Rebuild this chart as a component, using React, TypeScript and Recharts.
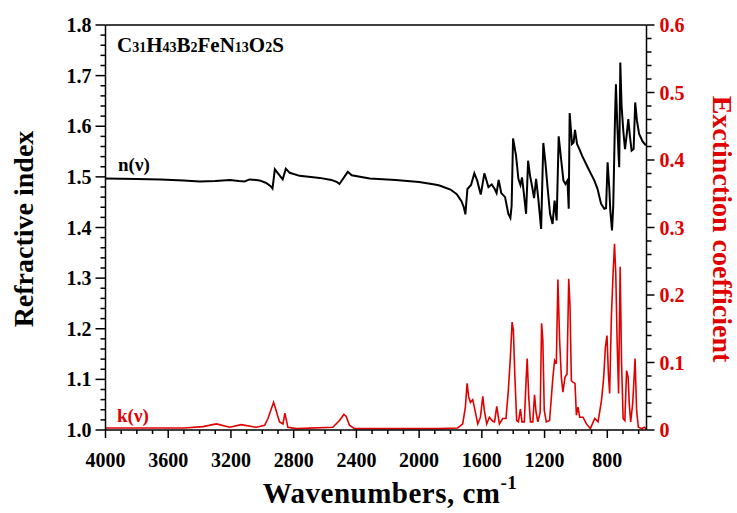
import { LineChart, Line, XAxis, YAxis, ReferenceLine } from 'recharts'

const RED = '#e00000'
const FONT = '"Liberation Serif", "Times New Roman", serif'

// refractive index n(ν): [wavenumber, n]
const nCurve: [number, number][] = [
  [4000, 1.497], [3800, 1.496], [3650, 1.495], [3500, 1.493], [3400, 1.491],
  [3300, 1.492], [3207, 1.494], [3150, 1.492], [3113, 1.491], [3081, 1.495],
  [3017, 1.493], [2975, 1.488], [2945, 1.481], [2935, 1.477], [2920, 1.515],
  [2895, 1.505], [2870, 1.495], [2850, 1.516], [2825, 1.508], [2762, 1.502],
  [2634, 1.498], [2560, 1.494], [2526, 1.490], [2508, 1.486], [2455, 1.510],
  [2430, 1.503], [2315, 1.497], [2150, 1.494], [2000, 1.490], [1900, 1.485],
  [1870, 1.483], [1800, 1.475], [1760, 1.466], [1730, 1.452], [1715, 1.440],
  [1705, 1.426], [1692, 1.476], [1669, 1.484], [1648, 1.507], [1630, 1.493],
  [1607, 1.465], [1584, 1.507], [1558, 1.480], [1537, 1.485], [1518, 1.476],
  [1506, 1.468], [1493, 1.494], [1476, 1.468], [1452, 1.460], [1431, 1.427],
  [1418, 1.419], [1410, 1.443], [1401, 1.576], [1382, 1.542], [1367, 1.496],
  [1354, 1.484], [1344, 1.499], [1333, 1.470], [1318, 1.427], [1305, 1.532],
  [1293, 1.503], [1280, 1.482], [1267, 1.458], [1254, 1.496], [1240, 1.457],
  [1222, 1.397], [1208, 1.567], [1195, 1.529], [1180, 1.476], [1165, 1.427],
  [1149, 1.407], [1136, 1.453], [1123, 1.414], [1110, 1.580], [1095, 1.536],
  [1080, 1.493], [1067, 1.486], [1054, 1.493], [1046, 1.437], [1040, 1.626],
  [1025, 1.565], [1015, 1.568], [1006, 1.593], [993, 1.565], [978, 1.555],
  [961, 1.542], [936, 1.526], [904, 1.506], [883, 1.493], [862, 1.476],
  [840, 1.447], [819, 1.437], [808, 1.438], [798, 1.529], [787, 1.476],
  [781, 1.434], [770, 1.394], [762, 1.443], [751, 1.614], [745, 1.683],
  [736, 1.601], [728, 1.542], [724, 1.519], [717, 1.726], [709, 1.641],
  [698, 1.591], [687, 1.555], [677, 1.581], [666, 1.614], [656, 1.581],
  [645, 1.552], [632, 1.555], [622, 1.647], [611, 1.611], [597, 1.585],
  [575, 1.570], [554, 1.562],
]

// extinction coefficient k(ν): [wavenumber, k]
const kCurve: [number, number][] = [
  [4000, 0.003], [3700, 0.003], [3500, 0.003], [3378, 0.005], [3293, 0.009],
  [3208, 0.004], [3134, 0.008], [3038, 0.004], [2985, 0.007], [2964, 0.017],
  [2928, 0.041], [2890, 0.012], [2868, 0.009], [2856, 0.025], [2837, 0.004],
  [2783, 0.002], [2550, 0.004], [2508, 0.014], [2480, 0.023], [2465, 0.020],
  [2444, 0.007], [2412, 0.002], [2100, 0.002], [1870, 0.002], [1754, 0.003],
  [1722, 0.009], [1705, 0.034], [1694, 0.069], [1684, 0.049], [1673, 0.041],
  [1658, 0.045], [1641, 0.026], [1626, 0.009], [1609, 0.019], [1594, 0.050],
  [1584, 0.029], [1569, 0.009], [1552, 0.019], [1530, 0.013], [1519, 0.012],
  [1505, 0.035], [1488, 0.009], [1467, 0.017], [1446, 0.017], [1431, 0.059],
  [1418, 0.108], [1407, 0.160], [1399, 0.148], [1390, 0.083], [1378, 0.014],
  [1367, 0.012], [1354, 0.031], [1344, 0.012], [1329, 0.012], [1318, 0.073],
  [1311, 0.106], [1301, 0.049], [1290, 0.012], [1275, 0.012], [1264, 0.052],
  [1254, 0.026], [1243, 0.012], [1228, 0.026], [1219, 0.158], [1211, 0.133],
  [1202, 0.029], [1189, 0.012], [1168, 0.014], [1147, 0.078], [1136, 0.103],
  [1125, 0.098], [1115, 0.223], [1104, 0.133], [1093, 0.078], [1083, 0.056],
  [1070, 0.078], [1057, 0.083], [1046, 0.224], [1038, 0.185], [1029, 0.073],
  [1019, 0.071], [1006, 0.069], [997, 0.022], [987, 0.034], [976, 0.019],
  [955, 0.019], [933, 0.009], [908, 0.002], [880, 0.017], [859, 0.012],
  [837, 0.044], [823, 0.078], [812, 0.123], [802, 0.140], [793, 0.083],
  [785, 0.054], [774, 0.167], [763, 0.232], [754, 0.276], [746, 0.232],
  [737, 0.128], [728, 0.054], [718, 0.242], [709, 0.098], [699, 0.017],
  [688, 0.014], [677, 0.088], [667, 0.078], [660, 0.039], [651, 0.012],
  [638, 0.039], [623, 0.106], [613, 0.029], [602, 0.004], [580, 0.002],
  [565, 0.004], [552, 0.002],
]

const xDomain = [550, 4000]
const nDomain = [1.0, 1.8]
const kDomain = [0, 0.6]

const xMajorTicks = [4000, 3600, 3200, 2800, 2400, 2000, 1600, 1200, 800]

// formula parts: [element, subscript]
const formula: [string, string][] = [
  ['C', '31'], ['H', '43'], ['B', '2'], ['Fe', ''], ['N', '13'], ['O', '2'], ['S', ''],
]

function range(start: number, end: number, step: number) {
  const out: number[] = []
  const n = Math.round((end - start) / step)
  for (let i = 0; i <= n; i++) out.push(Math.round((start + i * step) * 1000) / 1000)
  return out
}

const xTicks = range(600, 4000, 100)
const nTicks = range(1.0, 1.8, 0.02)
const kTicks = range(0, 0.6, 0.02)

const nData = nCurve.map(([x, n]) => ({ x, n }))
const kData = kCurve.map(([x, k]) => ({ x, k }))

const isTenth = (v: number) => Math.abs(v * 10 - Math.round(v * 10)) < 1e-6

function BottomTick({ x, y, payload }: any) {
  const v = payload.value
  const major = xMajorTicks.includes(v)
  return (
    <g>
      <line x1={x} x2={x} y1={y} y2={y + (major ? 8 : 4)} stroke="#000" strokeWidth={1.5} />
      {major && (
        <text x={x} y={y + 37} textAnchor="middle" fontFamily={FONT} fontWeight="bold" fontSize={20} fill="#000">
          {v}
        </text>
      )}
    </g>
  )
}

function LeftTick({ x, y, payload }: any) {
  const v = payload.value
  const major = isTenth(v)
  return (
    <g>
      <line x1={x - (major ? 10 : 5)} x2={x} y1={y} y2={y} stroke="#000" strokeWidth={1.5} />
      {major && (
        <text x={x - 14} y={y + 7} textAnchor="end" fontFamily={FONT} fontWeight="bold" fontSize={20} fill="#000">
          {v.toFixed(1)}
        </text>
      )}
    </g>
  )
}

function RightTick({ x, y, payload }: any) {
  const v = payload.value
  const major = isTenth(v)
  return (
    <g>
      <line x1={x} x2={x + (major ? 8 : 5)} y1={y} y2={y} stroke="#000" strokeWidth={1.5} />
      {major && (
        <text x={x + 13} y={y + 7} textAnchor="start" fontFamily={FONT} fontWeight="bold" fontSize={20} fill={RED}>
          {v === 0 ? '0' : v.toFixed(1)}
        </text>
      )}
    </g>
  )
}

export default function App() {
  return (
    <div style={{ position: 'absolute', left: 0, top: 0, width: 737, height: 513, background: '#fff' }}>
      <LineChart width={737} height={513} margin={{ top: 25, right: 30.5, bottom: 43, left: 45.5 }}>
        <XAxis
          dataKey="x"
          type="number"
          domain={xDomain}
          reversed
          ticks={xTicks}
          interval={0}
          tickSize={0}
          tickMargin={0}
          tickLine={false}
          tick={<BottomTick />}
          height={40}
          axisLine={{ stroke: '#000', strokeWidth: 1.5 }}
          allowDataOverflow
        />
        <YAxis
          yAxisId="left"
          type="number"
          domain={nDomain}
          ticks={nTicks}
          interval={0}
          tickSize={0}
          tickMargin={0}
          tickLine={false}
          tick={<LeftTick />}
          width={60}
          axisLine={{ stroke: '#000', strokeWidth: 1.5 }}
          allowDataOverflow
        />
        <YAxis
          yAxisId="right"
          orientation="right"
          type="number"
          domain={kDomain}
          ticks={kTicks}
          interval={0}
          tickSize={0}
          tickMargin={0}
          tickLine={false}
          tick={<RightTick />}
          width={60}
          axisLine={{ stroke: '#000', strokeWidth: 1.5 }}
          allowDataOverflow
        />
        <ReferenceLine yAxisId="left" y={1.8} stroke="#000" strokeWidth={1.5} />
        <Line
          yAxisId="left"
          data={nData}
          dataKey="n"
          type="linear"
          stroke="#000"
          strokeWidth={2}
          dot={false}
          isAnimationActive={false}
        />
        <Line
          yAxisId="right"
          data={kData}
          dataKey="k"
          type="linear"
          stroke={RED}
          strokeWidth={1.6}
          dot={false}
          isAnimationActive={false}
        />
      </LineChart>
      <svg
        width={737}
        height={513}
        style={{ position: 'absolute', left: 0, top: 0, pointerEvents: 'none' }}
        fontFamily={FONT}
        fontWeight="bold"
      >
        <text x={117} y={52} fontSize={21} fill="#000">
          {formula.map(([el, sub]) => [
            <tspan key={el}>{el}</tspan>,
            sub ? <tspan key={el + sub} fontSize={14}>{sub}</tspan> : null,
          ])}
        </text>
        <text x={118} y={171} fontSize={19} fill="#000">n(ν)</text>
        <text x={117} y={422} fontSize={19} fill={RED}>k(ν)</text>
        <text x={390} y={503} fontSize={29} textAnchor="middle" fill="#000" letterSpacing={0.5}>
          Wavenumbers, cm<tspan fontSize={19} dy={-14}>-1</tspan>
        </text>
        <text transform="translate(33 229) rotate(-90)" fontSize={28} textAnchor="middle" fill="#000">
          Refractive index
        </text>
        <text transform="translate(713 229) rotate(90)" fontSize={28} textAnchor="middle" fill={RED}>
          Exctinction coefficient
        </text>
      </svg>
    </div>
  )
}
